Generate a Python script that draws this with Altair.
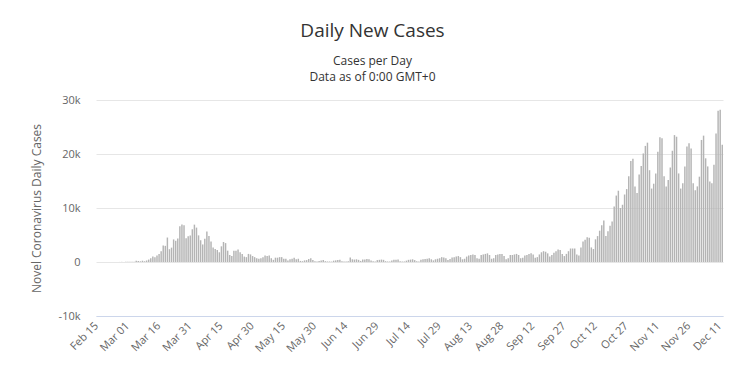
import altair as alt
import pandas as pd

# Daily new cases, Feb 15 .. Dec 12
feb = [0, 0, 0, 0, 0, 0, 0, 0, 0, 0, 2, 10, 26, 5, 36]
mar = [51, 29, 37, 66, 220, 188, 129, 241, 140, 280, 450, 700, 1000, 900, 1200, 1500,
       2000, 3070, 2990, 4530, 2370, 2660, 4180, 3930, 4340, 6620, 6930, 6820, 4400, 4790, 4920]
apr = [6060, 6920, 6370, 4930, 4030, 3250, 4290, 5630, 4800, 3800, 2700, 2400, 2200, 1800, 2900,
       3700, 3500, 2100, 1300, 1100, 2100, 2100, 2300, 1800, 1500, 1000, 900, 1500, 1400, 1100]
may = [900, 700, 600, 700, 900, 1200, 1100, 1200, 700, 400, 800, 800, 900, 900, 600, 600,
       300, 500, 600, 800, 500, 600, 200, 150, 300, 350, 550, 700, 350, 150, 100]
jun = [200, 300, 350, 150, 100, 100, 80, 250, 300, 350, 400, 150, 100, 80, 150, 850,
       500, 450, 500, 400, 200, 450, 450, 550, 500, 300, 150, 100, 350, 400]
jul = [450, 400, 150, 100, 80, 300, 400, 400, 450, 150, 100, 100, 250, 400, 450, 500,
       350, 150, 100, 400, 500, 550, 600, 700, 500, 300, 500, 600, 700, 900, 850]
aug = [700, 350, 550, 850, 900, 1000, 1100, 900, 500, 600, 1000, 1200, 1300, 1400, 1300, 700,
       600, 1300, 1400, 1500, 1600, 1300, 600, 700, 1300, 1400, 1500, 1500, 1100, 500, 700]
sep = [1300, 1300, 1400, 1500, 1300, 700, 800, 1200, 1300, 1500, 1600, 1400, 800, 900, 1400,
       1800, 2000, 1900, 1600, 1000, 1300, 1700, 2000, 2300, 2200, 1500, 1100, 1500, 2000, 2500]
oct_ = [2500, 2500, 1400, 1200, 2700, 3800, 4100, 4600, 4500, 2700, 2400, 4200, 4800, 5800, 6800,
        7700, 4800, 5700, 6700, 7500, 10300, 12300, 13200, 10000, 10600, 12500, 13500, 15900,
        18700, 19100, 14000]
nov = [12800, 16200, 17800, 20100, 21500, 22100, 17000, 13600, 14500, 16400, 20400, 23100, 22900,
       15900, 14000, 15200, 17500, 20600, 23500, 23200, 16400, 13600, 14600, 17700, 21400, 22000,
       21000, 14600, 13300, 14000]
dec = [15800, 22600, 23400, 19200, 17700, 14900, 14600, 18000, 23800, 28000, 28200, 21700]

cases = feb + mar + apr + may + jun + jul + aug + sep + oct_ + nov + dec
days = pd.date_range("2020-02-15", periods=len(cases)).strftime("%b %d").tolist()

tick_labels = ["Feb 15", "Mar 01", "Mar 16", "Mar 31", "Apr 15", "Apr 30", "May 15", "May 30",
               "Jun 14", "Jun 29", "Jul 14", "Jul 29", "Aug 13", "Aug 28", "Sep 12", "Sep 27",
               "Oct 12", "Oct 27", "Nov 11", "Nov 26", "Dec 11"]
y_ticks = [-10000, 0, 10000, 20000, 30000]

df = pd.DataFrame({"day": days, "cases": cases})

chart = alt.Chart(df).mark_bar(color="#b4b4b4").encode(
    x=alt.X("day:O", sort=None,
            scale=alt.Scale(paddingInner=0.3, paddingOuter=0),
            axis=alt.Axis(values=tick_labels, labelAngle=-45, labelAlign="right",
                          labelBaseline="middle", ticks=False, domainColor="#ccd6eb",
                          labelColor="#666666", labelFontSize=11, labelPadding=8,
                          title=None, grid=False, labelOverlap=False)),
    y=alt.Y("cases:Q", scale=alt.Scale(domain=[-10000, 30000], nice=False),
            axis=alt.Axis(values=y_ticks,
                          labelExpr="datum.value == 0 ? '0' : (datum.value / 1000) + 'k'",
                          grid=True, gridColor="#e6e6e6", domain=False, ticks=False,
                          labelPadding=16, labelColor="#666666", labelFontSize=11,
                          title="Novel Coronavirus Daily Cases", titleColor="#666666",
                          titleFontSize=12, titleFontWeight="normal",
                          titleX=-60, titleY=108, titleAngle=-90,
                          titleAlign="center", titleBaseline="middle")),
    tooltip=["day", "cases"],
).properties(
    width=627,
    height=216,
    autosize=alt.AutoSizeParams(type="none"),
    padding={"left": 88, "top": 92, "right": 9, "bottom": 45},
    title=alt.TitleParams(
        text="Daily New Cases",
        subtitle=["Cases per Day", "Data as of 0:00 GMT+0"],
        anchor="middle", frame="group", dx=-37,
        fontSize=19, fontWeight="normal", color="#333333",
        subtitleFontSize=12, subtitleColor="#333333",
        subtitlePadding=15, subtitleLineHeight=16, offset=11,
    ),
).configure(font="Open Sans").configure_view(stroke="transparent")

chart.save("out.html", embed_options={"renderer": "svg", "actions": False})
